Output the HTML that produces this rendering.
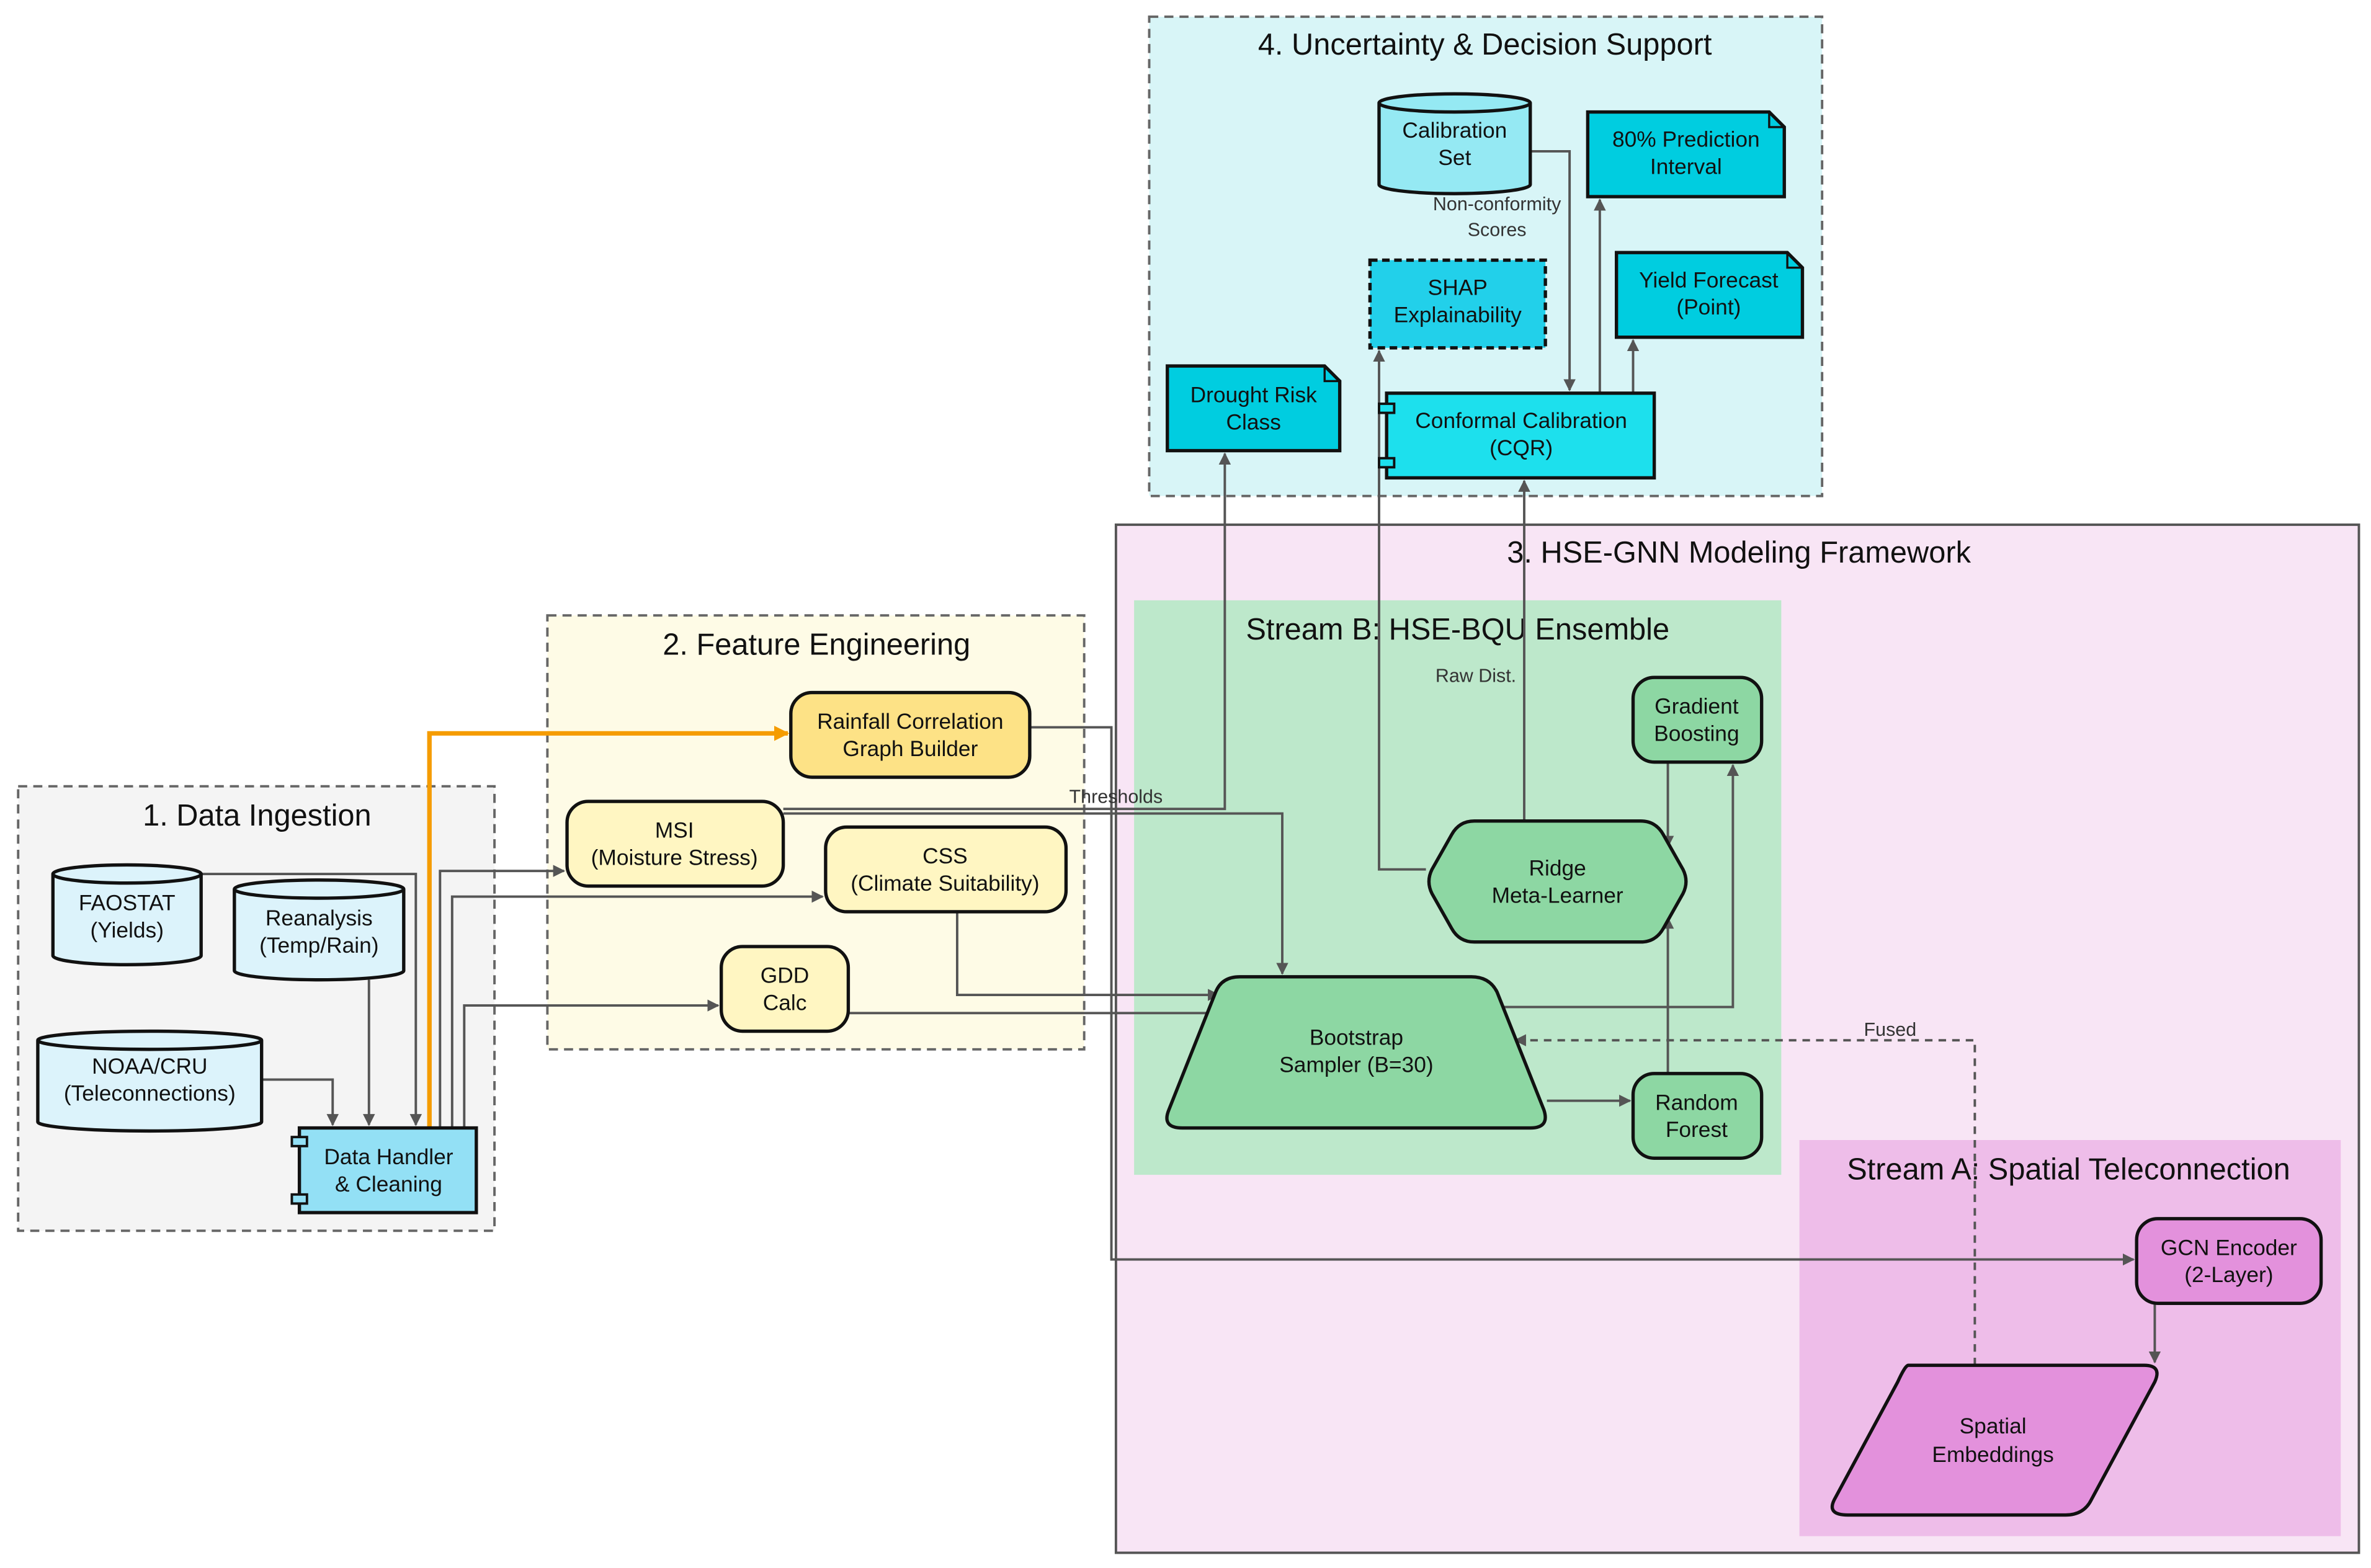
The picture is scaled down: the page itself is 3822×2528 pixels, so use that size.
<!DOCTYPE html>
<html><head><meta charset="utf-8"><style>
html,body{margin:0;padding:0;background:#fff;}
svg{display:block;}
text{font-family:"Liberation Sans",Arial,sans-serif;fill:#111;}
.t{font-size:20px;text-anchor:middle;}
.n{font-size:14.5px;text-anchor:middle;}
.l{font-size:12.5px;text-anchor:middle;fill:#333;}
.e{fill:none;stroke:#555;stroke-width:1.6;}
.nd{stroke:#111;stroke-width:2.2;}
</style></head><body>
<svg width="3822" height="2528" viewBox="0 0 1568 1037" xmlns="http://www.w3.org/2000/svg">
<defs>
<marker id="a" viewBox="0 0 10 10" refX="9" refY="5" markerWidth="8" markerHeight="8" orient="auto-start-reverse" markerUnits="userSpaceOnUse"><path d="M0,0 L10,5 L0,10 z" fill="#555"/></marker>
<marker id="ao" viewBox="0 0 10 10" refX="9" refY="5" markerWidth="10" markerHeight="10" orient="auto" markerUnits="userSpaceOnUse"><path d="M0,0 L10,5 L0,10 z" fill="#f59c00"/></marker>
</defs>
<rect width="1568" height="1037" fill="#fff"/>
<!-- clusters -->
<rect x="12" y="520" width="315" height="294" fill="#f4f4f4" stroke="#666" stroke-width="1.6" stroke-dasharray="6,4"/>
<text class="t" x="170" y="546">1. Data Ingestion</text>
<rect x="362" y="407" width="355" height="287" fill="#fefbe6" stroke="#666" stroke-width="1.6" stroke-dasharray="6,4"/>
<text class="t" x="540" y="433">2. Feature Engineering</text>
<rect x="738" y="347" width="822" height="680" fill="#f8e5f5" stroke="#555" stroke-width="1.6"/>
<text class="t" x="1150" y="372">3. HSE-GNN Modeling Framework</text>
<rect x="750" y="397" width="428" height="380" fill="#bde8cb"/>
<text class="t" x="964" y="423">Stream B: HSE-BQU Ensemble</text>
<rect x="1190" y="754" width="358" height="262" fill="#eebde9"/>
<text class="t" x="1368" y="780">Stream A: Spatial Teleconnection</text>
<rect x="760" y="11" width="445" height="317" fill="#d8f5f7" stroke="#666" stroke-width="1.6" stroke-dasharray="6,4"/>
<text class="t" x="982" y="36">4. Uncertainty &amp; Decision Support</text>

<!-- edges -->
<path class="e" d="M133,578 H275 V744" marker-end="url(#a)"/>
<path class="e" d="M244,648 V744" marker-end="url(#a)"/>
<path class="e" d="M173,714 H220 V744" marker-end="url(#a)"/>
<path d="M284,746 V485 H521" fill="none" stroke="#f59c00" stroke-width="3" marker-end="url(#ao)"/>
<path class="e" d="M291,746 V576 H373" marker-end="url(#a)"/>
<path class="e" d="M299,746 V593 H544" marker-end="url(#a)"/>
<path class="e" d="M307,746 V665 H475" marker-end="url(#a)"/>
<path class="e" d="M681,481 H735 V833 H1411" marker-end="url(#a)"/>
<path class="e" d="M518,535 H810 V300" marker-end="url(#a)"/>
<text class="l" x="738" y="531">Thresholds</text>
<path class="e" d="M518,538 H848 V644" marker-end="url(#a)"/>
<path class="e" d="M633,603 V658 H806" marker-end="url(#a)"/>
<path class="e" d="M561,670 H806" marker-end="url(#a)"/>
<path class="e" d="M1023,728 H1078" marker-end="url(#a)"/>
<path class="e" d="M985,666 H1146 V506" marker-end="url(#a)"/>
<path class="e" d="M1103,504 V560" marker-end="url(#a)"/>
<path class="e" d="M1103,710 V607" marker-end="url(#a)"/>
<path class="e" d="M1008,543 V318" marker-end="url(#a)"/>
<text class="l" x="976" y="451">Raw Dist.</text>
<path class="e" d="M943,575 H912 V232" marker-end="url(#a)"/>
<path class="e" d="M1012,100 H1038 V258" marker-end="url(#a)"/>
<text class="l" x="990" y="139">Non-conformity</text>
<text class="l" x="990" y="156">Scores</text>
<path class="e" d="M1058,260 V132" marker-end="url(#a)"/>
<path class="e" d="M1080,260 V225" marker-end="url(#a)"/>
<path class="e" d="M1425,862 V901" marker-end="url(#a)"/>
<path class="e" d="M1306,903 V688 H1002" stroke-dasharray="5,4" marker-end="url(#a)"/>
<text class="l" x="1250" y="685">Fused</text>

<!-- cylinders -->
<g class="nd" fill="#dcf3fb">
<path d="M35,578 V632 A49,6 0 0 0 133,632 V578 A49,6 0 0 0 35,578 A49,6 0 0 0 133,578"/>
<path d="M155,588 V642 A56,6 0 0 0 267,642 V588 A56,6 0 0 0 155,588 A56,6 0 0 0 267,588"/>
<path d="M25,688 V742 A74,6 0 0 0 173,742 V688 A74,6 0 0 0 25,688 A74,6 0 0 0 173,688"/>
</g>
<text class="n" x="84" y="602">FAOSTAT</text><text class="n" x="84" y="620">(Yields)</text>
<text class="n" x="211" y="612">Reanalysis</text><text class="n" x="211" y="630">(Temp/Rain)</text>
<text class="n" x="99" y="710">NOAA/CRU</text><text class="n" x="99" y="728">(Teleconnections)</text>
<path class="nd" fill="#95e9f3" d="M912,68 V122 A50,6 0 0 0 1012,122 V68 A50,6 0 0 0 912,68 A50,6 0 0 0 1012,68"/>
<text class="n" x="962" y="91">Calibration</text><text class="n" x="962" y="109">Set</text>

<!-- data handler -->
<rect class="nd" x="198" y="746" width="117" height="56" fill="#93e0f5"/>
<rect x="193" y="752" width="10" height="6" fill="#93e0f5" stroke="#111" stroke-width="1.6"/>
<rect x="193" y="790" width="10" height="6" fill="#93e0f5" stroke="#111" stroke-width="1.6"/>
<text class="n" x="257" y="770">Data Handler</text><text class="n" x="257" y="788">&amp; Cleaning</text>

<!-- feature nodes -->
<rect class="nd" x="375" y="530" width="143" height="56" rx="14" fill="#fff6c2"/>
<text class="n" x="446" y="554">MSI</text><text class="n" x="446" y="572">(Moisture Stress)</text>
<rect class="nd" x="546" y="547" width="159" height="56" rx="14" fill="#fff6c2"/>
<text class="n" x="625" y="571">CSS</text><text class="n" x="625" y="589">(Climate Suitability)</text>
<rect class="nd" x="477" y="626" width="84" height="56" rx="14" fill="#fff6c2"/>
<text class="n" x="519" y="650">GDD</text><text class="n" x="519" y="668">Calc</text>
<rect class="nd" x="523" y="458" width="158" height="56" rx="14" fill="#fde286"/>
<text class="n" x="602" y="482">Rainfall Correlation</text><text class="n" x="602" y="500">Graph Builder</text>

<!-- stream B -->
<path class="nd" fill="#8dd7a3" d="M820,646 H973 Q985,646 990,656 L1021,734 Q1025,746 1012,746 H782 Q768,746 773,734 L804,656 Q808,646 820,646 Z"/>
<text class="n" x="897" y="691">Bootstrap</text><text class="n" x="897" y="709">Sampler (B=30)</text>
<rect class="nd" x="1080" y="710" width="85" height="56" rx="14" fill="#8dd7a3"/>
<text class="n" x="1122" y="734">Random</text><text class="n" x="1122" y="752">Forest</text>
<rect class="nd" x="1080" y="448" width="85" height="56" rx="14" fill="#8dd7a3"/>
<text class="n" x="1122" y="472">Gradient</text><text class="n" x="1122" y="490">Boosting</text>
<path class="nd" fill="#8dd7a3" d="M975,543 H1085 Q1095,543 1100,552 L1113,575 Q1117,583 1113,591 L1100,614 Q1095,623 1085,623 H975 Q965,623 960,614 L947,591 Q943,583 947,575 L960,552 Q965,543 975,543 Z"/>
<text class="n" x="1030" y="579">Ridge</text><text class="n" x="1030" y="597">Meta-Learner</text>

<!-- stream A -->
<rect class="nd" x="1413" y="806" width="122" height="56" rx="14" fill="#e391dc"/>
<text class="n" x="1474" y="830">GCN Encoder</text><text class="n" x="1474" y="848">(2-Layer)</text>
<path class="nd" fill="#e391dc" d="M1262,903 H1418 Q1430,903 1425,914 L1383,992 Q1378,1002 1366,1002 H1222 Q1208,1002 1213,992 L1255,914 Q1260,903 1262,903 Z"/>
<text class="n" x="1318" y="948">Spatial</text><text class="n" x="1318" y="967">Embeddings</text>

<!-- cluster 4 -->
<rect class="nd" x="917" y="260" width="177" height="56" fill="#1de0ed"/>
<rect x="912" y="267" width="10" height="6" fill="#1de0ed" stroke="#111" stroke-width="1.6"/>
<rect x="912" y="303" width="10" height="6" fill="#1de0ed" stroke="#111" stroke-width="1.6"/>
<text class="n" x="1006" y="283">Conformal Calibration</text><text class="n" x="1006" y="301">(CQR)</text>
<rect x="906" y="172" width="116" height="58" fill="#22d0ea" stroke="#111" stroke-width="2.2" stroke-dasharray="5,3"/>
<text class="n" x="964" y="195">SHAP</text><text class="n" x="964" y="213">Explainability</text>
<g class="nd" fill="#00cde0">
<path d="M772,242 H876 L886,252 V298 H772 Z"/>
<path d="M1069,167 H1182 L1192,177 V223 H1069 Z"/>
<path d="M1050,74 H1170 L1180,84 V130 H1050 Z"/>
</g>
<path d="M876,242 V252 H886 M1182,167 V177 H1192 M1170,74 V84 H1180" fill="none" stroke="#111" stroke-width="1.4"/>
<text class="n" x="829" y="266">Drought Risk</text><text class="n" x="829" y="284">Class</text>
<text class="n" x="1130" y="190">Yield Forecast</text><text class="n" x="1130" y="208">(Point)</text>
<text class="n" x="1115" y="97">80% Prediction</text><text class="n" x="1115" y="115">Interval</text>
</svg>
</body></html>
